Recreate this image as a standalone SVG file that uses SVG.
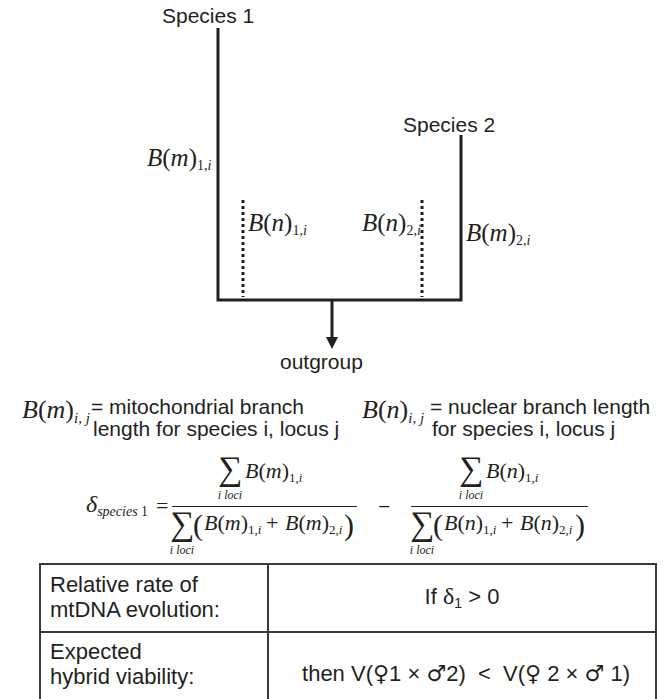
<svg xmlns="http://www.w3.org/2000/svg" width="666" height="699" viewBox="0 0 666 699">
<style>
.s{font-family:"Liberation Sans",Arial,Helvetica,sans-serif;font-size:21px;fill:#231f20}
.t{font-family:"Liberation Sans",Arial,Helvetica,sans-serif;font-size:22px;fill:#231f20}
.r{font-family:"Liberation Serif","Times New Roman",serif;fill:#231f20}
.i{font-style:italic}
.sym{font-family:"DejaVu Sans",sans-serif}
.sg{font-family:"Liberation Serif","Times New Roman",serif;font-size:34px;fill:#231f20}
.br{stroke:#231f20;stroke-width:3;fill:none}
.dot{stroke:#231f20;stroke-width:3;stroke-dasharray:3 3;fill:none}
.tb{stroke:#3a3a3a;stroke-width:2;fill:none}
.bar{stroke:#231f20;stroke-width:1;fill:none}
</style>
<rect width="666" height="699" fill="#fff"/>

<g id="connectors">
  <path class="br" d="M218,28 V300 H461 V135"/>
  <path class="br" d="M332,300 V338"/>
  <polygon points="326,337 338,337 332,349" fill="#231f20"/>
  <line class="dot" x1="243" y1="200" x2="243" y2="297"/>
  <line class="dot" x1="422" y1="200" x2="422" y2="297"/>
</g>

<g id="species1">
  <text class="s" x="162" y="23">Species 1</text>
  <text class="r" x="147" y="166" font-size="25"><tspan class="i">B</tspan>(<tspan class="i">m</tspan>)<tspan font-size="14" dy="4">1,<tspan class="i">i</tspan></tspan></text>
  <text class="r" x="248" y="231" font-size="25"><tspan class="i">B</tspan>(<tspan class="i">n</tspan>)<tspan font-size="14" dy="4">1,<tspan class="i">i</tspan></tspan></text>
</g>

<g id="species2">
  <text class="s" x="403" y="132">Species 2</text>
  <text class="r" x="362" y="231" font-size="25"><tspan class="i">B</tspan>(<tspan class="i">n</tspan>)<tspan font-size="14" dy="4">2,<tspan class="i">i</tspan></tspan></text>
  <text class="r" x="466" y="241" font-size="25"><tspan class="i">B</tspan>(<tspan class="i">m</tspan>)<tspan font-size="14" dy="4">2,<tspan class="i">i</tspan></tspan></text>
</g>

<g id="outgroup">
  <text class="s" x="280" y="369">outgroup</text>
</g>

<g id="definitions">
  <text class="r" x="22" y="418" font-size="26"><tspan class="i">B</tspan>(<tspan class="i">m</tspan>)<tspan class="i" font-size="15" dy="5">i, j</tspan></text>
  <text class="s" x="91" y="414">= mitochondrial branch</text>
  <text class="s" x="93" y="436">length for species i, locus j</text>
  <text class="r" x="362" y="418" font-size="26"><tspan class="i">B</tspan>(<tspan class="i">n</tspan>)<tspan class="i" font-size="15" dy="5">i, j</tspan></text>
  <text class="s" x="430" y="414">= nuclear branch length</text>
  <text class="s" x="432" y="436">for species i, locus j</text>
</g>

<g id="formula">
  <text class="r i" x="86" y="512" font-size="24">δ<tspan font-size="14" dy="4">species <tspan font-style="normal">1</tspan></tspan></text>
  <text class="r" x="156" y="513" font-size="22">=</text>
  <!-- fraction 1 -->
  <text class="sg" x="218" y="480">∑</text>
  <text class="r" x="245" y="478" font-size="22"><tspan class="i">B</tspan>(<tspan class="i">m</tspan>)<tspan font-size="13" dy="4">1,<tspan class="i">i</tspan></tspan></text>
  <text class="r i" x="230" y="499" font-size="12" text-anchor="middle">i loci</text>
  <line class="bar" x1="172" y1="506.5" x2="357" y2="506.5"/>
  <text class="sg" x="170" y="535">∑</text>
  <text class="r" x="193" y="535" font-size="30">(</text>
  <text class="r" x="204" y="530" font-size="22"><tspan class="i">B</tspan>(<tspan class="i">m</tspan>)<tspan font-size="13" dy="4">1,<tspan class="i">i</tspan></tspan></text>
  <text class="r" x="266" y="530" font-size="22">+</text>
  <text class="r" x="285" y="530" font-size="22"><tspan class="i">B</tspan>(<tspan class="i">m</tspan>)<tspan font-size="13" dy="4">2,<tspan class="i">i</tspan></tspan></text>
  <text class="r" x="344" y="535" font-size="30">)</text>
  <text class="r i" x="182" y="554" font-size="12" text-anchor="middle">i loci</text>
  <text class="r" x="378" y="514" font-size="22">−</text>
  <!-- fraction 2 -->
  <text class="sg" x="459" y="480">∑</text>
  <text class="r" x="486" y="478" font-size="22"><tspan class="i">B</tspan>(<tspan class="i">n</tspan>)<tspan font-size="13" dy="4">1,<tspan class="i">i</tspan></tspan></text>
  <text class="r i" x="471" y="499" font-size="12" text-anchor="middle">i loci</text>
  <line class="bar" x1="411" y1="506.5" x2="588" y2="506.5"/>
  <text class="sg" x="410" y="535">∑</text>
  <text class="r" x="433" y="535" font-size="30">(</text>
  <text class="r" x="444" y="530" font-size="22"><tspan class="i">B</tspan>(<tspan class="i">n</tspan>)<tspan font-size="13" dy="4">1,<tspan class="i">i</tspan></tspan></text>
  <text class="r" x="501" y="530" font-size="22">+</text>
  <text class="r" x="520" y="530" font-size="22"><tspan class="i">B</tspan>(<tspan class="i">n</tspan>)<tspan font-size="13" dy="4">2,<tspan class="i">i</tspan></tspan></text>
  <text class="r" x="575" y="535" font-size="30">)</text>
  <text class="r i" x="422" y="554" font-size="12" text-anchor="middle">i loci</text>
</g>

<g id="table">
  <path class="tb" d="M40,702 V564 H656 V702 M40,632 H656 M268,564 V702"/>
  <text class="t" x="50" y="592">Relative rate of</text>
  <text class="t" x="50" y="617">mtDNA evolution:</text>
  <text class="t" x="50" y="659">Expected</text>
  <text class="t" x="50" y="684">hybrid viability:</text>
  <text class="t" x="462" y="604" text-anchor="middle">If <tspan class="r" font-size="24">δ</tspan><tspan font-size="14" dy="4">1</tspan><tspan dy="-4"> &gt; 0</tspan></text>
  <text class="t" x="466" y="681" text-anchor="middle" xml:space="preserve">then V(<tspan class="sym">♀</tspan>1 × <tspan class="sym">♂</tspan>2)  &lt;  V(<tspan class="sym">♀</tspan> 2 × <tspan class="sym">♂</tspan> 1)</text>
</g>
</svg>
